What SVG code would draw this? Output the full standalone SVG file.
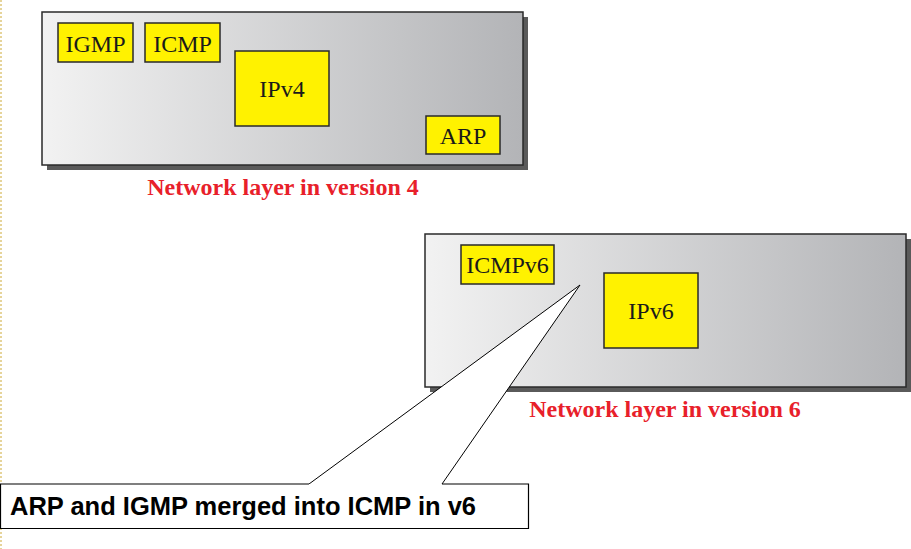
<svg xmlns="http://www.w3.org/2000/svg" width="911" height="549" viewBox="0 0 911 549">
<defs>
<linearGradient id="g" x1="0" y1="0" x2="1" y2="0">
<stop offset="0" stop-color="#f2f2f2"/>
<stop offset="1" stop-color="#b3b4b7"/>
</linearGradient>
<style>
.shadow{fill:#5a5a5a}
.panel{fill:url(#g);stroke:#2a2a2a;stroke-width:1.5}
.proto{fill:#fff200;stroke:#2a2a2a;stroke-width:1.5}
.pt{font-family:"Liberation Serif",serif;font-size:24px;fill:#1a1a1a;text-anchor:middle}
.cap{font-family:"Liberation Serif",serif;font-size:24px;font-weight:bold;fill:#e8202a;text-anchor:middle}
.call{font-family:"Liberation Sans",Arial,sans-serif;font-size:26px;font-weight:bold;fill:#000}
</style>
</defs>
<rect width="911" height="549" fill="#fff"/>
<line x1="1" y1="0" x2="1" y2="549" stroke="#e6d49a" stroke-width="2" stroke-dasharray="2,2"/>
<g id="v4">
<rect class="shadow" x="47" y="17" width="481" height="153"/>
<rect class="panel" x="42" y="12" width="481" height="153"/>
<g id="igmp"><rect class="proto" x="58" y="23" width="75" height="39"/><text class="pt" x="95.5" y="52">IGMP</text></g>
<g id="icmp"><rect class="proto" x="145" y="23" width="75" height="39"/><text class="pt" x="182.5" y="52">ICMP</text></g>
<g id="ipv4"><rect class="proto" x="235" y="51" width="94" height="75"/><text class="pt" x="282" y="97">IPv4</text></g>
<g id="arp"><rect class="proto" x="426" y="116" width="74" height="38"/><text class="pt" x="463" y="144">ARP</text></g>
<text class="cap" x="283" y="195">Network layer in version 4</text>
</g>
<g id="v6">
<rect class="shadow" x="430" y="239" width="481" height="153"/>
<rect class="panel" x="425" y="234" width="481" height="153"/>
<g id="icmpv6"><rect class="proto" x="461" y="245" width="93" height="39"/><text class="pt" x="507.5" y="273">ICMPv6</text></g>
<g id="ipv6"><rect class="proto" x="604" y="273" width="94" height="75"/><text class="pt" x="651" y="319">IPv6</text></g>
<text class="cap" x="665" y="417">Network layer in version 6</text>
</g>
<g id="connectors">
<polygon points="309,484 580,285 442,484" fill="#fff" stroke="none"/>
<polyline points="309,484 580,285 442,484" fill="none" stroke="#000" stroke-width="1"/>
</g>
<g id="callout">
<path d="M309,484 H0.5 V528.5 H528.5 V484 H442" fill="#fff" stroke="#000" stroke-width="1.2"/>
<text class="call" x="10" y="515" textLength="466" lengthAdjust="spacingAndGlyphs">ARP and IGMP merged into ICMP in v6</text>
</g>
</svg>
